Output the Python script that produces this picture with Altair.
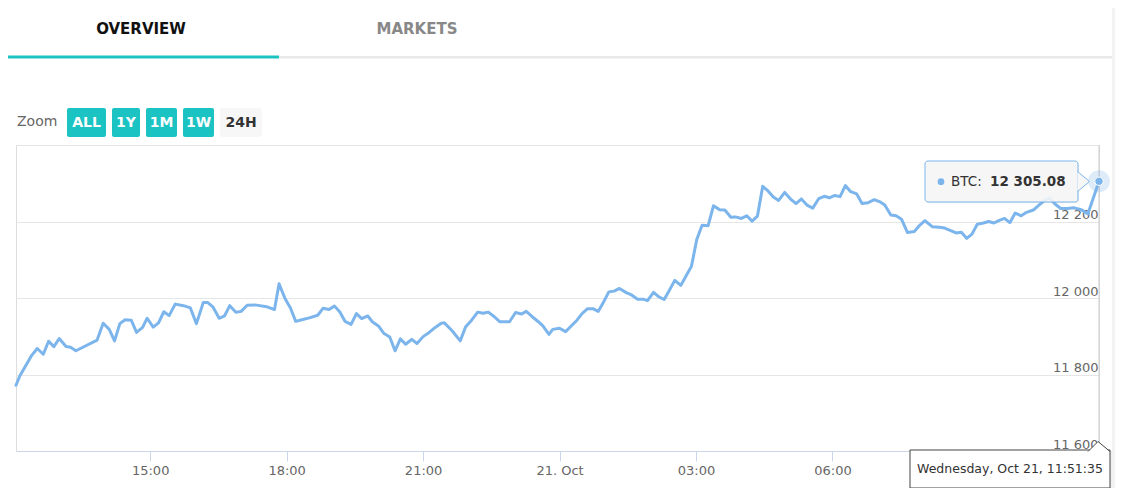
import altair as alt
import pandas as pd

# ---------------- data ----------------
times_oct20 = [
    "12:03", "12:08", "12:15", "12:23", "12:31", "12:39", "12:46", "12:53", "13:00", "13:09",
    "13:15", "13:22", "13:50", "13:58", "14:06", "14:13", "14:20", "14:27", "14:35", "14:42",
    "14:50", "14:56", "15:04", "15:11", "15:18", "15:25", "15:33", "15:44", "15:53", "16:01",
    "16:10", "16:16", "16:23", "16:31", "16:38", "16:45", "16:53", "17:00", "17:08", "17:18",
    "17:34", "17:44", "17:50", "17:58", "18:05", "18:12", "18:20", "18:30", "18:41", "18:48",
    "18:56", "19:03", "19:10", "19:17", "19:25", "19:32", "19:39", "19:47", "19:53", "20:01",
    "20:08", "20:16", "20:23", "20:30", "20:37", "20:45", "20:52", "21:00", "21:08", "21:16",
    "21:24", "21:28", "21:38", "21:49", "21:56", "22:04", "22:12", "22:19", "22:26", "22:34",
    "22:41", "22:54", "23:02", "23:10", "23:16", "23:24", "23:32", "23:38", "23:46", "23:51",
]
prices_oct20 = [
    11772, 11796, 11820, 11848, 11868, 11853, 11887, 11873, 11894, 11873,
    11871, 11862, 11890, 11934, 11918, 11888, 11933, 11943, 11942, 11910,
    11923, 11947, 11924, 11935, 11964, 11954, 11984, 11980, 11974, 11933,
    11988, 11988, 11976, 11947, 11953, 11980, 11963, 11965, 11981, 11982,
    11977, 11970, 12037, 11998, 11974, 11939, 11943, 11948, 11955, 11973,
    11970, 11979, 11964, 11939, 11931, 11959, 11946, 11953, 11938, 11927,
    11908, 11898, 11862, 11893, 11879, 11892, 11881, 11899, 11910, 11923,
    11934, 11935, 11915, 11888, 11924, 11942, 11963, 11960, 11963, 11951,
    11938, 11938, 11962, 11958, 11965, 11951, 11938, 11927, 11905, 11918,
]
times_oct21 = [
    "00:00", "00:08", "00:16", "00:23", "00:30", "00:37", "00:44", "00:51", "00:59", "01:05",
    "01:12", "01:19", "01:28", "01:35", "01:43", "01:50", "01:56", "02:04", "02:11", "02:18",
    "02:24", "02:32", "02:40", "02:47", "02:54", "03:01", "03:08", "03:16", "03:23", "03:31",
    "03:38", "03:46", "03:52", "04:00", "04:07", "04:14", "04:21", "04:28", "04:35", "04:42",
    "04:49", "04:57", "05:05", "05:12", "05:19", "05:27", "05:34", "05:42", "05:49", "05:56",
    "06:03", "06:10", "06:17", "06:24", "06:32", "06:39", "06:47", "06:55", "07:02", "07:09",
    "07:17", "07:24", "07:31", "07:39", "07:48", "07:55", "08:02", "08:12", "08:21", "08:28",
    "08:36", "08:43", "08:50", "08:57", "09:04", "09:11", "09:19", "09:26", "09:33", "09:40",
    "09:47", "09:54", "10:01", "10:09", "10:16", "10:25", "10:32", "10:40", "10:46", "10:54",
    "11:01", "11:10", "11:18", "11:28", "11:37", "11:51:35",
]
prices_oct21 = [
    11921, 11912, 11928, 11942, 11960, 11972, 11972, 11965, 11993, 12016,
    12018, 12025, 12014, 12008, 11997, 11997, 11993, 12015, 12003, 11996,
    12017, 12046, 12033, 12058, 12083, 12153, 12190, 12189, 12241, 12231,
    12230, 12211, 12212, 12208, 12215, 12201, 12214, 12292, 12280, 12264,
    12255, 12276, 12258, 12247, 12259, 12242, 12235, 12260, 12266, 12262,
    12268, 12265, 12294, 12278, 12272, 12247, 12249, 12257, 12252, 12243,
    12217, 12215, 12206, 12171, 12174, 12190, 12202, 12186, 12185, 12183,
    12176, 12170, 12172, 12156, 12167, 12193, 12196, 12200, 12196, 12203,
    12208, 12197, 12222, 12215, 12224, 12230, 12242, 12255, 12261, 12245,
    12234, 12234, 12236, 12231, 12220, 12305.08,
]
series_name = "BTC"
tab_labels = ["OVERVIEW", "MARKETS"]
zoom_label = "Zoom"
zoom_buttons = ["ALL", "1Y", "1M", "1W", "24H"]
y_ticks = [11600, 11800, 12000, 12200, 12400]

times = ["2020-10-20T" + t for t in times_oct20] + ["2020-10-21T" + t for t in times_oct21]
prices = prices_oct20 + prices_oct21
df = pd.DataFrame({"t": times, "price": prices})
last_df = df.tail(1).reset_index(drop=True)

# ---------------- styling ----------------
LINE = "#7cb5ec"
TEAL = "#1cc3c3"
FONT = "DejaVu Sans"
W, H = 1083, 306
OX, OY = 16, 145  # page position of the plot origin

dummy = pd.DataFrame({"a": [0]})


def rect(x1, x2, y1, y2, **kw):
    return alt.Chart(dummy).mark_rect(**kw).encode(
        x=alt.value(x1 - OX), x2=alt.value(x2 - OX),
        y=alt.value(y1 - OY), y2=alt.value(y2 - OY))


def text(s, x, y, **kw):
    kw.setdefault("font", FONT)
    return alt.Chart(dummy).mark_text(text=s, **kw).encode(
        x=alt.value(x - OX), y=alt.value(y - OY))


def shape(path, x, y, size, **kw):
    return alt.Chart(dummy).mark_point(shape=path, size=size, opacity=1, **kw).encode(
        x=alt.value(x - OX), y=alt.value(y - OY))


x_start = alt.DateTime(year=2020, month=10, date=20, hours=12, minutes=3)
x_end = alt.DateTime(year=2020, month=10, date=21, hours=11, minutes=51, seconds=35)
x_ticks = ([alt.DateTime(year=2020, month=10, date=20, hours=h) for h in (15, 18, 21)] +
           [alt.DateTime(year=2020, month=10, date=21, hours=h) for h in (0, 3, 6, 9)])

x_enc = alt.X(
    "t:T",
    scale=alt.Scale(domain=[x_start, x_end]),
    axis=alt.Axis(
        values=x_ticks, title=None, grid=False,
        domainColor="#ccd6eb", tickColor="#ccd6eb", tickSize=10,
        labelColor="#666666", labelFontSize=13, labelFont=FONT, labelPadding=3,
        labelFlush=False, labelOverlap=False,
        # the 09:00 label sits under the crosshair label box in the reference
        labelExpr="hours(datum.value) == 9 ? '' : hours(datum.value) == 0 ? timeFormat(datum.value, '%d. %b') : timeFormat(datum.value, '%H:%M')",
    ),
)
y_enc = alt.Y(
    "price:Q",
    scale=alt.Scale(domain=[11600, 12400], nice=False, zero=False),
    axis=alt.Axis(
        orient="right", values=y_ticks, title=None, domain=False, ticks=False, tickSize=0,
        grid=True, gridColor="#e6e6e6", gridWidth=1,
        labelColor="#666666", labelFontSize=13, labelFont=FONT,
        labelAlign="right", labelPadding=-1, labelBaseline="alphabetic", labelOffset=-3,
        labelFlush=False, labelOverlap=False,
        labelExpr="datum.value >= 12400 ? '' : replace(format(datum.value, ','), ',', ' ')",
    ),
)

crosshair = alt.Chart(last_df).mark_rule(color="#cccccc", strokeWidth=1).encode(x="t:T")
line = alt.Chart(df).mark_line(color=LINE, strokeWidth=3, strokeJoin="round", strokeCap="round").encode(
    x=x_enc, y=y_enc)
halo = alt.Chart(last_df).mark_circle(color=LINE, opacity=0.25, size=480).encode(x="t:T", y="price:Q")
marker = alt.Chart(last_df).mark_point(filled=True, fill=LINE, stroke="#ffffff", strokeWidth=1,
                                        opacity=1, size=70, shape="circle").encode(x="t:T", y="price:Q")

# ---------------- page decorations ----------------
deco = [
    rect(1112, 1140, 0, 500, color="#f3f3f3"),
    rect(4, 279, 55.5, 58.5, color=TEAL),
    rect(279, 1112, 56, 58.5, color="#e9e9e9"),
    text(tab_labels[0], 141, 29, fontSize=15, fontWeight="bold", color="#111111", align="center", baseline="middle"),
    text(tab_labels[1], 417, 29, fontSize=15, fontWeight="bold", color="#888888", align="center", baseline="middle"),
    text(zoom_label, 17, 122, fontSize=14, color="#666666", align="left", baseline="middle"),
]
btn_spans = [(67, 106), (112, 140), (146, 177), (183, 214), (220, 262)]
for i, (lab, (bx1, bx2)) in enumerate(zip(zoom_buttons, btn_spans)):
    active = i < 4
    deco.append(rect(bx1, bx2, 108, 137, color=TEAL if active else "#f7f7f7", cornerRadius=2))
    deco.append(text(lab, (bx1 + bx2) / 2, 123, fontSize=14, fontWeight="bold",
                     color="#ffffff" if active else "#333333", align="center", baseline="middle"))

# tooltip (top)
tip_val = alt.Chart(last_df).transform_calculate(
    v="replace(format(datum.price, ',.2f'), ',', ' ')",
    lbl=f"'{series_name}:'",
)
tooltip = [
    rect(926, 1079, 162, 203, fill="#000000", opacity=0.06, stroke="#000000", strokeWidth=3, strokeOpacity=0.05, cornerRadius=3),
    rect(925, 1078, 161, 202, fill="#f7f7f7", fillOpacity=0.88, stroke=LINE, strokeWidth=1, cornerRadius=3),
    shape("M0,-1L1.2,0L0,1", 1077.5, 181.5, 400, fill="#f7f7f7", stroke=LINE, strokeWidth=1),
    shape("circle", 941, 181.7, 45, filled=True, fill=LINE, stroke=LINE, strokeWidth=0),
    tip_val.mark_text(font=FONT, fontSize=13.5, color="#333333", align="left", baseline="middle").encode(
        text="lbl:N", x=alt.value(951 - OX), y=alt.value(181.7 - OY)),
    tip_val.mark_text(font=FONT, fontSize=13.5, fontWeight="bold", color="#333333", align="left", baseline="middle").encode(
        text="v:N", x=alt.value(990 - OX), y=alt.value(181.7 - OY)),
]

# crosshair label (bottom)
xlabel = alt.Chart(last_df).transform_calculate(
    s="timeFormat(datum.t, '%A, %b %d, %H:%M:%S')")
bottom = [
    rect(911, 1112, 451, 490, fill="#000000", opacity=0.06, stroke="#000000", strokeWidth=3, strokeOpacity=0.05),
    rect(910, 1110, 450, 488, fill="#ffffff", stroke="#444444", strokeWidth=1),
    shape("M-1,0.5L0,-0.5L1.2,0.5", 1098, 446.5, 400, fill="#ffffff", stroke="#444444", strokeWidth=1),
    xlabel.mark_text(font=FONT, fontSize=12.5, color="#333333", align="center", baseline="middle").encode(
        text="s:N", x=alt.value(1010 - OX), y=alt.value(469 - OY)),
]

chart = alt.layer(
    *deco, crosshair, line, halo, marker, *tooltip, *bottom
).properties(
    width=W, height=H,
    padding={"left": 8, "top": 137, "right": 16, "bottom": 37},
    autosize=alt.AutoSizeParams(type="none"),
    background="#ffffff",
).configure_view(stroke=None).configure(font=FONT)

chart.save("out.html", embed_options={"renderer": "svg", "actions": False})
